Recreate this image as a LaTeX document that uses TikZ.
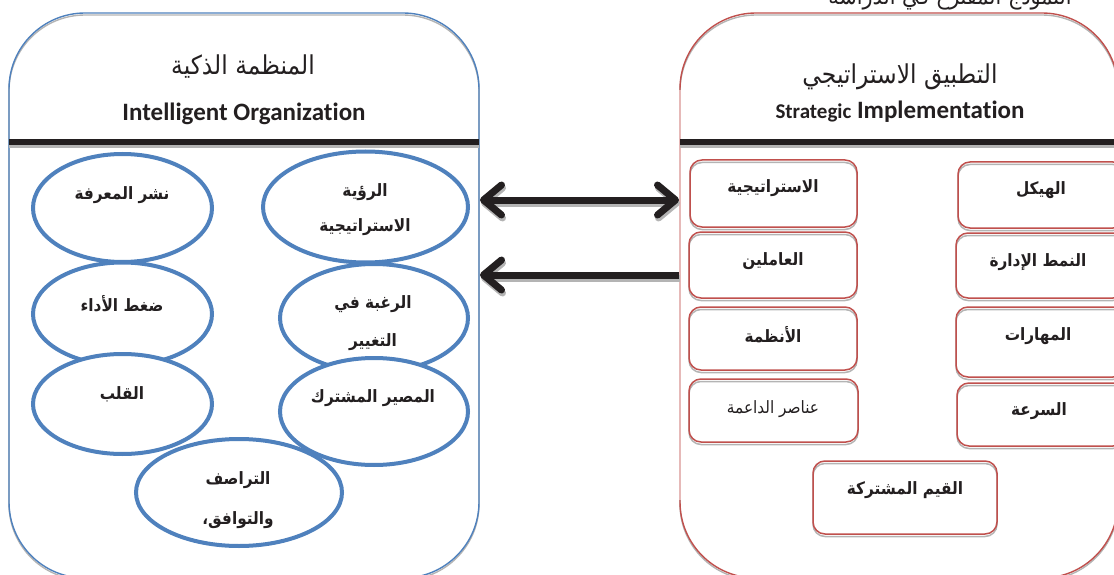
\documentclass[tikz,border=0pt]{standalone}
\usepackage{fontspec}
\usetikzlibrary{shapes.geometric,arrows.meta}
\TeXXeTstate=1
\setmainfont[Ligatures=NoCommon]{Carlito}
\newfontfamily\arfont[Script=Arabic,FakeStretch=0.9]{DejaVu Sans}
\newcommand{\ar}[1]{{\arfont\beginR #1\endR}}
\definecolor{bluel}{HTML}{4F81BD}
\definecolor{redl}{HTML}{C0504D}
\definecolor{ink}{HTML}{231F20}
\definecolor{shade}{HTML}{B4B4B4}
\tikzset{
  bigbox/.style={draw=#1,line width=1.4pt,rounded corners=76pt,inner sep=0pt,outer sep=0pt,
    preaction={draw=shade,line width=1.4pt,transform canvas={yshift=-2pt}}},
  redbox/.style={draw=redl,line width=1.5pt,rounded corners=12pt,inner sep=0pt,outer sep=0pt,
    preaction={draw=shade,line width=1.5pt,transform canvas={yshift=-2.5pt}}},
  oval/.style={ellipse,draw=bluel,fill=white,line width=4pt,inner sep=0pt,outer sep=0pt},
  lab/.style={inner sep=0pt,text=ink,yshift=-2pt,font=\fontsize{17}{19}\selectfont\bfseries},
  title/.style={inner sep=0pt,text=ink,font=\fontsize{26}{28}\selectfont},
  latin/.style={inner sep=0pt,text=ink,font=\fontsize{25}{27}\selectfont\bfseries},
  rulebar/.style={draw=ink,line width=6pt},
  rulesh/.style={draw=shade,line width=6pt,transform canvas={yshift=-3pt}},
  bigarrow/.style={draw=ink,line width=7pt,shorten <=1pt,shorten >=1pt},
  bigarrowsh/.style={draw=shade,line width=7pt,shorten <=1pt,shorten >=1pt,transform canvas={shift={(1pt,-3pt)}}},
  paleedge/.style={draw=redl!40,line width=2pt},
}
\begin{document}
\begin{tikzpicture}[x=1pt,y=-1pt]
\useasboundingbox (0,0) rectangle (1114,575);
\clip (0,0) rectangle (1114,575);
\node[inner sep=0pt,text=ink,font=\fontsize{23}{25}\selectfont,anchor=base] (cap) at (950,5) {\ar{النموذج المقترح في الدراسة}};

\node[bigbox=bluel,minimum width=470pt,minimum height=565pt] (left) at (244,295.5) {};
\node[bigbox=redl,minimum width=438pt,minimum height=565pt] (right) at (899,295.5) {};
\coordinate (ptop) at (0,90);
\coordinate (pbot) at (0,500);
\draw[paleedge] (right.west |- ptop) -- (right.west |- pbot);

\coordinate (rl) at (0,142);
\coordinate (rr) at (1114,142);
\draw[rulesh] (left.west |- rl) -- (left.east |- rl);
\draw[rulebar] (left.west |- rl) -- (left.east |- rl);
\draw[rulesh] (right.west |- rr) -- (rr);
\draw[rulebar] (right.west |- rr) -- (rr);

\node[title] (t1) at (243,67) {\ar{المنظمة الذكية}};
\node[latin] (t2) at (244,114) {Intelligent Organization};
\node[title] (t3) at (900,77) {\ar{التطبيق الاستراتيجي}};
\node[latin] (t4) at (900,112) {{\fontsize{21}{23}\selectfont Strategic} Implementation};

\node[oval,minimum width=179pt,minimum height=108pt] (e1) at (122.5,208) {};
\node[oval,minimum width=205pt,minimum height=111pt] (e2) at (365.5,207) {};
\node[oval,minimum width=179pt,minimum height=103pt] (e3) at (122.5,314) {};
\node[oval,minimum width=188pt,minimum height=108pt] (e4) at (374,318) {};
\node[oval,minimum width=179pt,minimum height=100pt] (e5) at (122.5,404) {};
\node[oval,minimum width=188pt,minimum height=107pt] (e6) at (374,411.5) {};
\node[oval,minimum width=206pt,minimum height=107pt] (e7) at (239,492.5) {};

\node[lab] (l1) at (122,193) {\ar{نشر المعرفة}};
\node[lab] (l2a) at (365,190) {\ar{الرؤية}};
\node[lab] (l2b) at (365,225) {\ar{الاستراتيجية}};
\node[lab] (l3) at (122,302) {\ar{ضغط الأداء}};
\node[lab] (l4a) at (373,302) {\ar{الرغبة في}};
\node[lab] (l4b) at (373,340) {\ar{التغيير}};
\node[lab] (l5) at (122,392) {\ar{القلب}};
\node[lab] (l6) at (373,396) {\ar{المصير المشترك}};
\node[lab] (l7a) at (238,478) {\ar{التراصف}};
\node[lab] (l7b) at (238,518) {\ar{والتوافق،}};

\node[redbox,minimum width=167pt,minimum height=67pt] (r1) at (773.5,193.5) {};
\node[redbox,minimum width=167pt,minimum height=66pt] (r2) at (1041.5,195) {};
\node[redbox,minimum width=168pt,minimum height=66pt] (r3) at (773,265) {};
\node[redbox,minimum width=169pt,minimum height=65pt] (r4) at (1040.5,265.5) {};
\node[redbox,minimum width=168pt,minimum height=63pt] (r5) at (773,338.5) {};
\node[redbox,minimum width=169pt,minimum height=70pt] (r6) at (1040.5,342) {};
\node[redbox,minimum width=169pt,minimum height=63pt] (r7) at (773.5,410.5) {};
\node[redbox,minimum width=168pt,minimum height=63pt] (r8) at (1041,414.5) {};
\node[redbox,minimum width=184pt,minimum height=73pt] (r9) at (905,497.5) {};

\node[lab] (b1) at (773,186) {\ar{الاستراتيجية}};
\node[lab] (b2) at (1041,188) {\ar{الهيكل}};
\node[lab] (b3) at (773,259) {\ar{العاملين}};
\node[lab] (b4) at (1038,260) {\ar{النمط الإدارة}};
\node[lab] (b5) at (773,333) {\ar{الأنظمة}};
\node[lab] (b6) at (1038,334) {\ar{المهارات}};
\node[lab,font=\fontsize{17}{19}\selectfont] (b7) at (773,407) {\ar{عناصر الداعمة}};
\node[lab] (b8) at (1039,409) {\ar{السرعة}};
\node[lab] (b9) at (905,488) {\ar{القيم المشتركة}};

\coordinate (dbl) at (0,200);
\coordinate (sgl) at (0,275);
\draw[bigarrowsh,{Straight Barb[length=18pt,width=30pt,round]}-{Straight Barb[length=18pt,width=30pt,round]}] (left.east |- dbl) -- (right.west |- dbl);
\draw[bigarrowsh,-{Straight Barb[length=18pt,width=30pt,round]}] (right.west |- sgl) -- (left.east |- sgl);
\draw[bigarrow,{Straight Barb[length=18pt,width=30pt,round]}-{Straight Barb[length=18pt,width=30pt,round]}] (left.east |- dbl) -- (right.west |- dbl);
\draw[bigarrow,-{Straight Barb[length=18pt,width=30pt,round]}] (right.west |- sgl) -- (left.east |- sgl);
\end{tikzpicture}
\end{document}
